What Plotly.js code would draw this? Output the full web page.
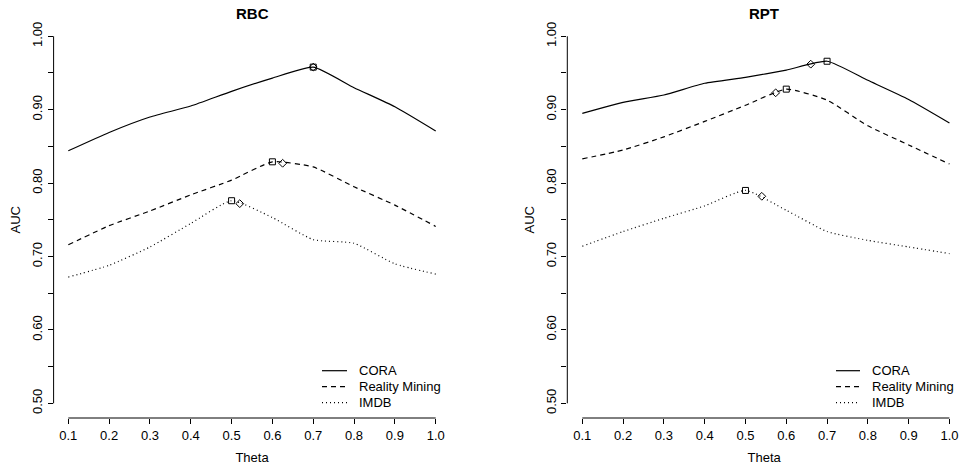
<!DOCTYPE html>
<html>
<head>
<meta charset="utf-8">
<script src="https://cdn.plot.ly/plotly-3.0.1.min.js"></script>
<style>html,body{margin:0;padding:0;background:#fff;}#chart{width:961px;height:465px;}</style>
</head>
<body>
<div id="chart"></div>
<script>
// ---- data ----
const theta = [0.1, 0.2, 0.3, 0.4, 0.5, 0.6, 0.7, 0.8, 0.9, 1.0];
const seriesNames = ["CORA", "Reality Mining", "IMDB"];

const rbcCora    = [0.844, 0.869, 0.890, 0.905, 0.925, 0.943, 0.958, 0.930, 0.904, 0.871];
const rbcReality = [0.716, 0.742, 0.762, 0.784, 0.804, 0.829, 0.822, 0.795, 0.770, 0.741];
const rbcImdb    = [0.672, 0.688, 0.713, 0.745, 0.776, 0.753, 0.723, 0.718, 0.690, 0.676];

const rptCora    = [0.895, 0.910, 0.920, 0.936, 0.944, 0.954, 0.966, 0.940, 0.914, 0.882];
const rptReality = [0.833, 0.845, 0.863, 0.884, 0.906, 0.928, 0.913, 0.878, 0.852, 0.826];
const rptImdb    = [0.714, 0.734, 0.752, 0.769, 0.790, 0.763, 0.734, 0.722, 0.713, 0.704];

// optimum markers
const rbcSquareX  = [0.7, 0.6, 0.5];
const rbcSquareY  = [0.958, 0.829, 0.776];
const rbcDiamondX = [0.7, 0.625, 0.52];
const rbcDiamondY = [0.958, 0.827, 0.772];

const rptSquareX  = [0.7, 0.6, 0.5];
const rptSquareY  = [0.966, 0.928, 0.790];
const rptDiamondX = [0.66, 0.574, 0.54];
const rptDiamondY = [0.962, 0.923, 0.782];

const xTickVals = theta;
const xTickText = ["0.1", "0.2", "0.3", "0.4", "0.5", "0.6", "0.7", "0.8", "0.9", "1.0"];
const yTickVals = [0.50, 0.55, 0.60, 0.65, 0.70, 0.75, 0.80, 0.85, 0.90, 0.95, 1.00];
const yTickText = ["0.50", "", "0.60", "", "0.70", "", "0.80", "", "0.90", "", "1.00"];

const panelTitles = ["RBC", "RPT"];
const xTitle = "Theta";
const yTitle = "AUC";

// ---- styles ----
const FONT = "Liberation Sans, Arial, Helvetica, sans-serif";
const dashes = ["solid", "5px,4px", "1px,3px"];
const lineW = 1.2;

function lineTrace(y, i, xa, ya) {
  return {
    x: theta, y: y, type: "scatter", mode: "lines",
    name: seriesNames[i], xaxis: xa, yaxis: ya, showlegend: false,
    line: {color: "#000", width: lineW, dash: dashes[i], shape: "spline", smoothing: 0.5},
    hoverinfo: "skip"
  };
}
function markerTrace(x, y, sym, xa, ya) {
  return {
    x: x, y: y, type: "scatter", mode: "markers", showlegend: false,
    xaxis: xa, yaxis: ya,
    marker: {symbol: sym, size: 6, color: "#000", line: {color: "#000", width: 1}},
    hoverinfo: "skip"
  };
}

const traces = [
  lineTrace(rbcCora, 0, "x", "y"),
  lineTrace(rbcReality, 1, "x", "y"),
  lineTrace(rbcImdb, 2, "x", "y"),
  markerTrace(rbcSquareX, rbcSquareY, "square-open", "x", "y"),
  markerTrace(rbcDiamondX, rbcDiamondY, "diamond-open", "x", "y"),
  lineTrace(rptCora, 0, "x2", "y2"),
  lineTrace(rptReality, 1, "x2", "y2"),
  lineTrace(rptImdb, 2, "x2", "y2"),
  markerTrace(rptSquareX, rptSquareY, "square-open", "x2", "y2"),
  markerTrace(rptDiamondX, rptDiamondY, "diamond-open", "x2", "y2")
];

const W = 961, H = 465;
const yDom = [(H - 418) / H, (H - 21.6) / H];

function xAxis(domain, range, anchor) {
  return {
    domain: domain, range: range, anchor: anchor,
    tickmode: "array", tickvals: xTickVals, ticktext: xTickText,
    ticks: "outside", ticklen: 5, tickwidth: 1, tickcolor: "#000",
    showline: false, showgrid: false, zeroline: false,
    tickfont: {family: FONT, size: 13, color: "#000"},
    title: {text: xTitle, font: {family: FONT, size: 13, color: "#000"}, standoff: 14},
    fixedrange: true
  };
}
function yAxis(anchor) {
  return {
    domain: yDom, range: [0.48, 1.02], anchor: anchor,
    tickmode: "array", tickvals: yTickVals, ticktext: yTickText,
    ticks: "outside", ticklen: 5, tickwidth: 1, tickcolor: "#000",
    tickangle: -90,
    showline: false, showgrid: false, zeroline: false,
    tickfont: {family: FONT, size: 13, color: "#000"},
    title: {text: yTitle, font: {family: FONT, size: 13, color: "#000"}, standoff: 6},
    fixedrange: true
  };
}

function axisShapes(xa, ya) {
  return [
    {type: "line", xref: xa, yref: ya + " domain", x0: theta[0], x1: theta[theta.length - 1], y0: 0, y1: 0,
     line: {color: "#000", width: 1}},
    {type: "line", xref: xa + " domain", yref: ya, x0: 0, x1: 0, y0: yTickVals[0], y1: yTickVals[yTickVals.length - 1],
     line: {color: "#000", width: 1}}
  ];
}

// hand-drawn legend (R-style compact rows)
const legendRowsY = [370.7, 386.7, 402.7];
function legendItems(lineX0, lineX1, textX) {
  const shapes = [], anns = [];
  seriesNames.forEach(function (nm, i) {
    const yy = 1 - legendRowsY[i] / H;
    shapes.push({type: "line", xref: "paper", yref: "paper", x0: lineX0 / W, x1: lineX1 / W, y0: yy, y1: yy,
                 line: {color: "#000", width: lineW, dash: dashes[i]}});
    anns.push({text: nm, xref: "paper", yref: "paper", x: textX / W, y: yy, xanchor: "left", yanchor: "middle",
               showarrow: false, font: {family: FONT, size: 13, color: "#000"}, borderpad: 0});
  });
  return {shapes: shapes, anns: anns};
}
const legL = legendItems(322, 347, 358);
const legR = legendItems(836, 860, 871);

const leftDom = [53.6 / W, 450.4 / W];
const rightDom = [567.3 / W, 1];

const layout = {
  width: W, height: H,
  margin: {l: 0, r: 0, t: 0, b: 0},
  paper_bgcolor: "#fff", plot_bgcolor: "#fff",
  font: {family: FONT, size: 13, color: "#000"},
  showlegend: false,
  xaxis: xAxis(leftDom, [0.064, 1.036], "y"),
  yaxis: yAxis("x"),
  xaxis2: xAxis(rightDom, [0.06324, 1.0283], "y2"),
  yaxis2: yAxis("x2"),
  shapes: axisShapes("x", "y").concat(axisShapes("x2", "y2"), legL.shapes, legR.shapes),
  annotations: [
    {text: "<b>" + panelTitles[0] + "</b>", xref: "paper", yref: "paper",
     x: (leftDom[0] + leftDom[1]) / 2, y: 1 - 13.5 / H, xanchor: "center", yanchor: "middle",
     showarrow: false, font: {family: FONT, size: 15, color: "#000"}},
    {text: "<b>" + panelTitles[1] + "</b>", xref: "paper", yref: "paper",
     x: (rightDom[0] + rightDom[1]) / 2, y: 1 - 13.5 / H, xanchor: "center", yanchor: "middle",
     showarrow: false, font: {family: FONT, size: 15, color: "#000"}}
  ].concat(legL.anns, legR.anns)
};

Plotly.newPlot("chart", traces, layout, {displayModeBar: false, staticPlot: true});
</script>
</body>
</html>
